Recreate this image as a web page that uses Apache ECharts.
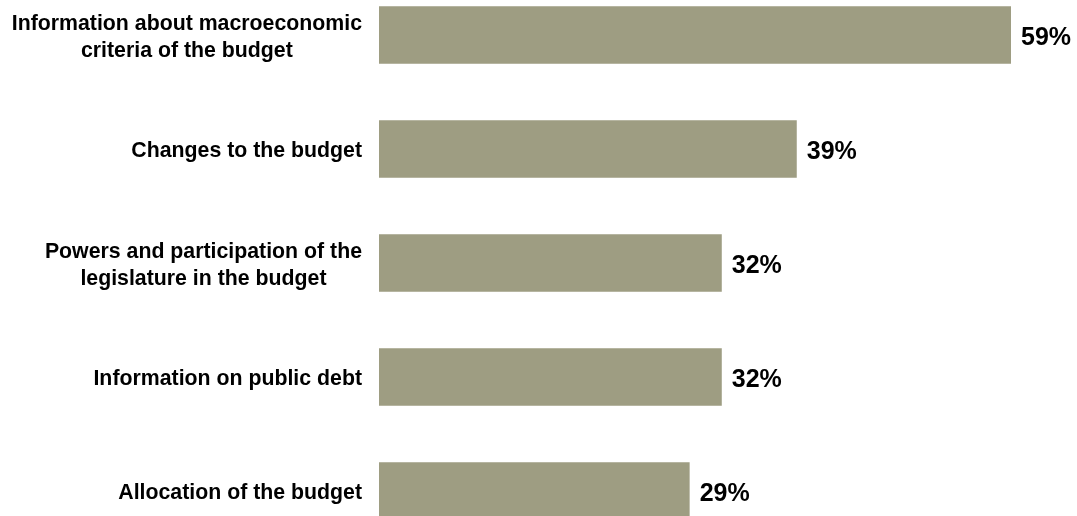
<!DOCTYPE html>
<html>
<head>
<meta charset="utf-8">
<script src="https://cdn.jsdelivr.net/npm/echarts@6/dist/echarts.min.js"></script>
<style>
  html, body { margin: 0; padding: 0; background: #ffffff; }
  #chart { width: 1077px; height: 516px; }
</style>
</head>
<body>
<div id="chart"></div>
<script>
// Budget information topics, top to bottom
const categories = [
  'Information about macroeconomic\ncriteria of the budget',
  'Changes to the budget',
  'Powers and participation of the\nlegislature in the budget',
  'Information on public debt',
  'Allocation of the budget'
];
// Share of responses, percent
const values = [59, 39, 32, 32, 29];

const chart = echarts.init(document.getElementById('chart'), null, { renderer: 'canvas' });

chart.setOption({
  animation: false,
  backgroundColor: '#ffffff',
  grid: {
    left: 379, width: 632, top: -22, height: 570,
    containLabel: false,
    outerBoundsMode: 'none'
  },
  xAxis: {
    type: 'value',
    min: 0,
    max: 59,
    show: false
  },
  yAxis: {
    type: 'category',
    data: categories,
    inverse: true,
    axisLine: { show: false },
    axisTick: { show: false },
    splitLine: { show: false },
    axisLabel: {
      margin: 17,
      align: 'right',
      padding: [5, 0, 0, 0],
      formatter: function (v) {
        return v.split('\n').map(function (l) { return '{c|' + l + '}'; }).join('\n');
      },
      rich: {
        c: {
          align: 'center',
          fontFamily: 'Liberation Sans, Arial, sans-serif',
          fontWeight: 'bold',
          fontSize: 21.3,
          lineHeight: 27,
          color: '#000000'
        }
      }
    }
  },
  series: [{
    type: 'bar',
    data: values,
    barWidth: 57.5,
    itemStyle: { color: '#9e9d82' },
    label: {
      show: true,
      position: 'right',
      distance: 10,
      offset: [0, 3],
      formatter: '{c}%',
      fontFamily: 'Liberation Sans, Arial, sans-serif',
      fontWeight: 'bold',
      fontSize: 25,
      color: '#000000'
    }
  }]
});
</script>
</body>
</html>
